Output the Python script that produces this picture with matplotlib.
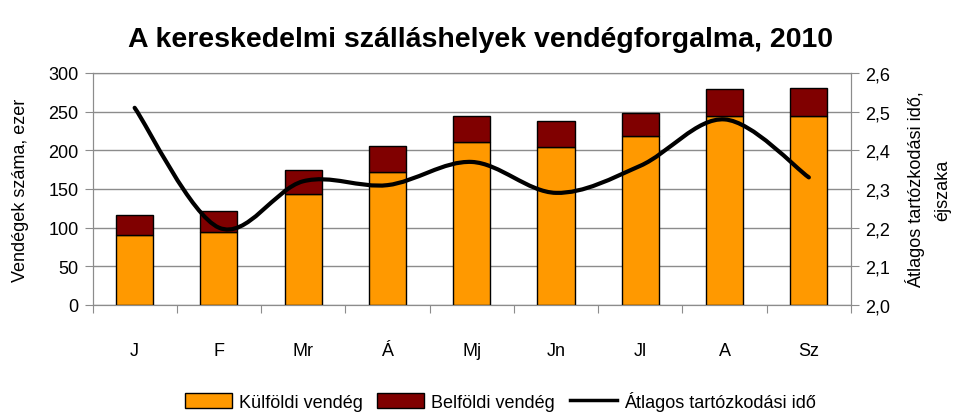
import matplotlib.pyplot as plt
from matplotlib.path import Path
from matplotlib.patches import PathPatch, Patch
from matplotlib.lines import Line2D
import numpy as np

months = ["J", "F", "Mr", "Á", "Mj", "Jn", "Jl", "A", "Sz"]
kulfoldi = [90, 95, 144, 172, 211, 204, 219, 245, 245]
belfoldi = [26, 26, 31, 34, 34, 34, 29, 34, 36]
atlag = [2.51, 2.20, 2.32, 2.31, 2.37, 2.29, 2.36, 2.48, 2.33]

plt.rcParams['font.family'] = ['Liberation Sans', 'DejaVu Sans']

fig = plt.figure(figsize=(9.62, 4.14), dpi=100)
ax = fig.add_axes([92.5/962, 1-306/414, (851-92.5)/962, 232/414])
x = np.arange(len(months))

ax.bar(x, kulfoldi, width=0.44, color='#FF9900', edgecolor='black', linewidth=1, zorder=3)
ax.bar(x, belfoldi, bottom=kulfoldi, width=0.44, color='#800000', edgecolor='black', linewidth=1, zorder=3)

ax.set_xlim(-0.5, len(months)-0.5)
ax.set_ylim(0, 300)
ax.set_yticks(range(0, 301, 50))
ax.yaxis.grid(True, color='#8c8c8c', linewidth=1, zorder=0)
for s in ax.spines.values():
    s.set_color('#8c8c8c')
ax.set_xticks(np.arange(-0.5, len(months), 1))
ax.set_xticklabels([])
ax.set_xticks(x, minor=True)
ax.set_xticklabels(months, minor=True)
ax.tick_params(axis='x', which='major', length=6, color='#8c8c8c')
ax.tick_params(axis='x', which='minor', length=0, pad=27, labelsize=13)
ax.tick_params(axis='y', length=6, color='#8c8c8c', labelsize=13, pad=4)
ax.set_ylabel("Vendégek száma, ezer", fontsize=13, labelpad=14)

ax2 = ax.twinx()
ax2.set_ylim(2.0, 2.6)
ax2.set_yticks(np.arange(2.0, 2.61, 0.1))
ax2.set_yticklabels([f"{v:.1f}".replace('.', ',') for v in np.arange(2.0, 2.61, 0.1)])
ax2.tick_params(axis='y', length=6, color='#8c8c8c', labelsize=13, pad=4)
for s in ax2.spines.values():
    s.set_color('#8c8c8c')
ax2.set_ylabel("Átlagos tartózkodási idő,\néjszaka", fontsize=13, labelpad=11, linespacing=1.7)

# smoothed line as Bezier path (Excel-like smoothing)
pts = np.column_stack([x, atlag]).astype(float)
verts = [tuple(pts[0])]
codes = [Path.MOVETO]
n = len(pts)
for i in range(n-1):
    p0 = pts[max(i-1, 0)]
    p1 = pts[i]
    p2 = pts[i+1]
    p3 = pts[min(i+2, n-1)]
    c1 = p1 + (p2 - p0) / 6
    c2 = p2 - (p3 - p1) / 6
    verts += [tuple(c1), tuple(c2), tuple(p2)]
    codes += [Path.CURVE4]*3
ax2.add_patch(PathPatch(Path(verts, codes), fill=False, edgecolor='black', linewidth=3, zorder=5, capstyle='round'))

fig.suptitle("A kereskedelmi szálláshelyek vendégforgalma, 2010", y=0.935,
             fontsize=20.5, fontweight='bold')

handles = [Patch(facecolor='#FF9900', edgecolor='black'),
           Patch(facecolor='#800000', edgecolor='black'),
           Line2D([0], [0], color='black', linewidth=2.5)]
labels = ["Külföldi vendég", "Belföldi vendég", "Átlagos tartózkodási idő"]
fig.legend(handles, labels, loc='center', bbox_to_anchor=(0.52, 1-402/414), ncol=3,
           frameon=False, fontsize=13, handlelength=2.6, handleheight=0.9,
           columnspacing=0.8, handletextpad=0.4)

fig.savefig("out.png", dpi=100)
